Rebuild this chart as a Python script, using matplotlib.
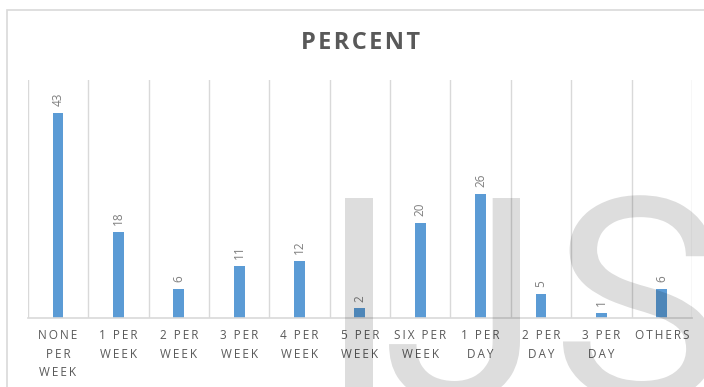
import numpy as np
import matplotlib.pyplot as plt
from matplotlib.patches import Rectangle, PathPatch
from matplotlib.textpath import TextPath
from matplotlib.font_manager import FontProperties
from matplotlib.transforms import Affine2D

# Dane: odsetek odpowiedzi w każdej kategorii
categories = ["NONE\nPER\nWEEK", "1 PER\nWEEK", "2 PER\nWEEK", "3 PER\nWEEK",
              "4 PER\nWEEK", "5 PER\nWEEK", "SIX PER\nWEEK", "1 PER\nDAY",
              "2 PER\nDAY", "3 PER\nDAY", "OTHERS"]
percent = [43, 18, 6, 11, 12, 2, 20, 26, 5, 1, 6]

W, H = 704, 387
FONT = ['Open Sans', 'DejaVu Sans']


def spaced(s, sep="\u2009"):
    # rozstrzelenie liter cienką spacją
    return "\n".join(sep.join(line) for line in s.split("\n"))


fig = plt.figure(figsize=(W / 100, H / 100), dpi=100)
fig.patch.set_facecolor('white')

# ramka wykresu
fig.patches.append(Rectangle((7 / W, -0.1), 1.2, (H - 10) / H + 0.1,
                             transform=fig.transFigure, fill=False,
                             edgecolor='#d9d9d9', linewidth=1.2))

ax = fig.add_axes([27.8 / W, (H - 318) / H, (692 - 27.8) / W, (318 - 80) / H])
x = np.arange(len(categories))
bars = ax.bar(x, percent, width=0.18, color='#5b9bd5', zorder=2)

ax.set_xlim(-0.5, len(categories) - 0.5)
ax.set_ylim(0, 50)

# pionowe linie oddzielające kategorie
for b in np.arange(-0.5, len(categories), 1.0):
    ax.axvline(b, color='#d9d9d9', linewidth=1, zorder=1)

for s in ['top', 'left', 'right']:
    ax.spines[s].set_visible(False)
ax.spines['bottom'].set_color('#d9d9d9')
ax.spines['bottom'].set_linewidth(1.2)
ax.set_yticks([])
ax.set_xticks(x)
ax.set_xticklabels([spaced(c) for c in categories], family=FONT,
                   fontsize=8.5, color='#595959', linespacing=1.55)
ax.tick_params(axis='x', length=0, pad=8)

# etykiety wartości nad słupkami
for rect, v in zip(bars, percent):
    ax.annotate(str(v), (rect.get_x() + rect.get_width() / 2, v),
                xytext=(0, 5), textcoords='offset points', rotation=90,
                ha='center', va='bottom', fontsize=8.5, color='#7f7f7f',
                family=FONT)

fig.text(0.512, 1 - 43 / H, spaced("PERCENT", "\u200a"), ha='center',
         va='center', fontsize=17, fontweight='bold', color='#595959',
         family=FONT)

# znak wodny "IJS": każda litera osobno, w pikselach figury
wm_font = FontProperties(family='Roboto')
glyphs = {c: TextPath((0, 0), c, size=1, prop=wm_font) for c in "IJS"}
ext_i = glyphs["I"].get_extents()
sx = 27.5 / ext_i.width
sy = (400 - 198) / ext_i.y1
# lewa krawędź (w pikselach) każdej litery
left_px = {"I": 345,
           "J": 520 - glyphs["J"].get_extents().width * sx,
           "S": 563}
for c, path in glyphs.items():
    e = path.get_extents()
    tr = (Affine2D().translate(-e.x0, 0).scale(sx, sy)
          .translate(left_px[c], H - 400).scale(1 / W, 1 / H) + fig.transFigure)
    fig.patches.append(PathPatch(path, transform=tr, facecolor='black',
                                 edgecolor='none', alpha=0.135, zorder=10))

fig.savefig('out.png', dpi=100, facecolor='white')
